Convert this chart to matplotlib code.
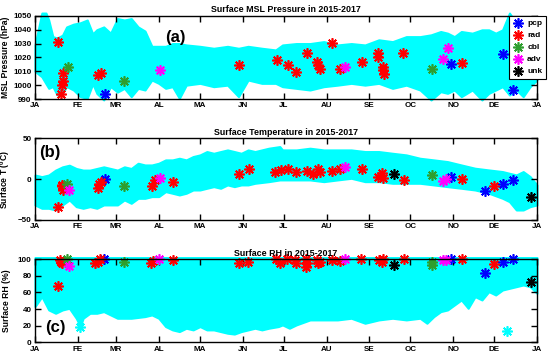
import matplotlib.pyplot as plt
from matplotlib.lines import Line2D

plt.rcParams['font.family'] = ['Liberation Sans', 'DejaVu Sans']
plt.rcParams['font.weight'] = 'bold'
plt.rcParams['mathtext.fontset'] = 'custom'
plt.rcParams['mathtext.rm'] = 'Liberation Sans:bold'
plt.rcParams['mathtext.it'] = 'Liberation Sans:bold'

month_ticks = [0, 31, 59, 90, 120, 151, 181, 212, 243, 273, 304, 334, 365]
month_labels = ['JA', 'FE', 'MR', 'AL', 'MA', 'JN', 'JL', 'AU', 'SE', 'OC', 'NO', 'DE', 'JA']

# cyan cloud of all hourly data, kept as its envelope (day of year, top, bottom)
env_day_a = [0, 5, 8, 10, 13, 16, 20, 23, 28, 33, 38, 42, 45, 50, 55, 60, 65, 70, 75, 80,
             85, 90, 95, 100, 105, 110, 120, 130, 140, 148, 155, 165, 175, 180, 190, 200,
             210, 220, 230, 240, 250, 260, 270, 280, 288, 295, 300, 305, 310, 318, 325,
             330, 335, 340, 345, 350, 355, 360, 365]
env_hi_a = [1029, 1052, 1052, 1047, 1035, 1034, 1036, 1042, 1044, 1045, 1047, 1037, 1040,
            1042, 1037.5, 1048, 1047, 1048, 1042, 1039, 1028, 1028, 1028, 1030, 1030, 1029,
            1028, 1026.6, 1028, 1026.6, 1028, 1026.6, 1025.4, 1029, 1030, 1030, 1031.4,
            1029, 1030, 1029, 1032.7, 1031.4, 1035, 1035, 1036.3, 1038.7, 1037.5, 1035,
            1038.7, 1037.5, 1039.9, 1039.9, 1037.5, 1039.9, 1052, 1044.7, 1042.3, 1039.9,
            1032.7]
env_lo_a = [1010, 1006, 1001, 997.7, 999, 993, 994, 999, 996.5, 991.7, 990.5, 1001, 994,
            989.3, 999, 995, 997.7, 991.7, 997.7, 996.5, 1003.7, 1001.3, 997.7, 998.9,
            990.5, 1000, 1001.3, 998.9, 1000, 991.7, 1003.7, 1001.3, 1001.3, 998.9, 997.7,
            996.5, 998.9, 1000, 1001.3, 1000, 1001.3, 997.7, 1000, 996.5, 989.3, 995.3,
            994.1, 996.5, 991.7, 996.5, 989.3, 994.1, 996.5, 998.9, 992.9, 996.5, 991.7,
            998.9, 1003.7]

env_day_b = [0, 5, 10, 15, 20, 25, 30, 35, 40, 45, 50, 55, 60, 65, 70, 75, 80, 85, 90, 95,
             100, 105, 110, 115, 120, 125, 130, 135, 140, 145, 150, 155, 160, 170, 178, 180,
             190, 200, 210, 220, 230, 240, 250, 260, 270, 280, 290, 300, 310, 320, 330, 340,
             345, 350, 355, 360, 365]
env_hi_b = [5, 3, 5, 11, 15, 17, 13, 11, 11, 13, 15, 13, 11, 15, 13, 19.4, 17.3, 17.3, 19.4,
            23.5, 23.5, 25.5, 23.5, 27.6, 29.6, 33.7, 31.6, 33.7, 35.7, 33.7, 31.6, 35.7,
            33.7, 37.8, 39.8, 35.7, 35.7, 37.8, 35.7, 35.7, 35.7, 33.7, 33.7, 31.6, 29.6,
            25.5, 23.5, 21.4, 17.3, 13.3, 11.2, 9.2, 7.1, 5.1, 9.2, 3.1, -7.1]
env_lo_b = [-31.6, -35.7, -35.7, -37.8, -31.6, -25.5, -33.7, -35.7, -33.7, -35.7, -31.6,
            -31.6, -31.6, -25.5, -29.6, -23.5, -23.5, -21.4, -21.4, -15.3, -17.3, -19.4,
            -17.3, -13.3, -13.3, -11.2, -9.2, -11.2, -7.1, -9.2, -7.1, -7.1, -5.1, -3.1, -1,
            -1, -1, -1, -3.1, -1, 1, -3.1, -3.1, -5.1, -5.1, -5.1, -7.1, -9.2, -11.2, -13.3,
            -17.3, -23.5, -27.6, -37.8, -37.8, -33.7, -31.6]

env_day_c = [0, 5, 10, 15, 20, 25, 30, 33, 35, 40, 45, 50, 55, 60, 70, 80, 85, 90, 95, 100,
             105, 110, 115, 120, 125, 130, 135, 140, 145, 150, 155, 160, 165, 170, 177, 180,
             185, 190, 200, 210, 220, 230, 240, 250, 260, 270, 280, 285, 290, 295, 300, 305,
             310, 315, 320, 325, 330, 335, 340, 345, 350, 355, 360, 365]
env_lo_c = [43, 55, 39, 35, 39, 41, 29, 19, 29, 35, 35, 37, 33, 29, 29, 31, 33, 29, 19, 15,
            13, 17, 15, 19, 15, 15, 13, 11, 10, 13, 15, 17, 15, 17, 19, 21, 17, 21, 27, 27,
            27, 29, 23, 27, 29, 27, 29, 23, 31, 37, 39, 45, 51, 41, 55, 51, 61, 57, 63, 65,
            67, 69, 67, 59]
rh_top = 102

# flagged events: day of year, value, category
a_day = [16.7, 19, 20.5, 20.5, 20, 46, 48, 148.5, 176, 184, 190, 197.6, 205, 206, 207, 215.8,
         221.8, 237.6, 249.7, 249.7, 253, 253, 253.5, 267.9, 310.8,
         50.7, 302.5, 340, 347.4,
         24, 65, 288.5,
         91, 225.5, 296.5, 300.6]
a_val = [1031.4, 993.4, 1009, 1003, 1000, 1007, 1009, 1014.6, 1018, 1014.6, 1009.7, 1023, 1017,
         1014.6, 1011.5, 1030.7, 1012, 1017, 1023, 1020.6, 1013.4, 1011, 1008, 1023, 1015.8,
         993.4, 1015, 1022.3, 996.5,
         1013, 1003, 1012,
         1011, 1013.4, 1018.7, 1027]
a_cat = ['rad'] * 25 + ['pcp'] * 4 + ['cbl'] * 3 + ['adv'] * 4

b_day = [16.7, 20, 20.5, 19.5, 45.5, 46.5, 48, 85, 87, 100, 148.5, 155.6, 174.5, 179, 184, 190,
         198, 202, 206, 207, 216, 222, 237.6, 249.7, 252, 253, 268, 310.8, 334,
         51, 302.5, 327, 340, 347.4,
         23.4, 65, 288.5,
         24.6, 91, 225.5, 296.5, 299,
         261.3, 361]
b_val = [-33.7, -9, -13, -7, -11, -6, -3, -8, -1, -3, 6, 12, 9, 11, 12, 9, 10, 6, 12, 9, 10,
         12, 12, 3, 7, 1, -1, 0, -8,
         0, 3, -14, -6, -1,
         -6, -8, 5,
         -13, 1, 15, -2, 0,
         6, -22]
b_cat = ['rad'] * 29 + ['pcp'] * 5 + ['cbl'] * 3 + ['adv'] * 5 + ['unk'] * 2

c_day = [16.5, 18.5, 19.7, 19, 44, 46, 47, 84.5, 86, 100, 148.5, 155, 175, 178, 183, 189, 190,
         197, 198, 197, 205, 207, 206, 216, 222, 237, 250, 252, 253, 268, 310.8, 334,
         50.5, 302.5, 327, 340, 347.4,
         23.4, 65, 288.5, 288.5,
         24.6, 90, 225.5, 296.5, 299,
         261, 360.8]
c_val = [68, 99, 95, 97, 95, 97, 100, 96, 98, 99, 96, 97, 100, 95, 100, 99, 95, 100, 95, 91,
         99, 97, 95, 99, 98, 100, 99, 97, 100, 100, 100, 94,
         100, 100, 84, 97, 100,
         100, 97, 97, 93,
         92, 100, 100, 99, 99,
         93, 73]
c_cat = ['rad'] * 32 + ['pcp'] * 5 + ['cbl'] * 4 + ['adv'] * 5 + ['unk'] * 2
c_stray_day = [32.5, 343]
c_stray_val = [18, 14]

cat_names = ['pcp', 'rad', 'cbl', 'adv', 'unk']
cat_colors = ['#0000ff', '#ff0000', '#2e9e2e', '#ff00ff', '#000000']

CYAN = '#00ffff'
STAR = (8, 2, 0)
MS, MEW = 7.5, 1.2

fig = plt.figure(figsize=(5.5, 3.6), dpi=100)
ax1 = fig.add_axes([0.0636, 0.725, 0.9127, 0.231])
ax2 = fig.add_axes([0.0636, 0.389, 0.9127, 0.227])
ax3 = fig.add_axes([0.0636, 0.049, 0.9127, 0.231])


def draw_events(ax, days, vals, cats):
    for name, col in zip(cat_names, cat_colors):
        xs = [d for d, c in zip(days, cats) if c == name]
        ys = [v for v, c in zip(vals, cats) if c == name]
        ax.plot(xs, ys, ls='none', marker=STAR, ms=MS, mew=MEW, color=col, clip_on=False, zorder=3)


def style(ax, ylim, yticks, ylab, title, labx):
    ax.set_xlim(0, 365)
    ax.set_ylim(*ylim)
    ax.set_xticks(month_ticks)
    ax.set_xticklabels(month_labels)
    ax.set_yticks(yticks)
    ax.tick_params(direction='in', length=4, width=1, top=True, right=True, labelsize=5.8, pad=2.5)
    for sp in ax.spines.values():
        sp.set_linewidth(1.0)
        sp.set_zorder(4)
    ax.set_ylabel(ylab, fontsize=6.2, fontweight='bold')
    ax.yaxis.set_label_coords(labx, 0.5)
    ax.set_title(title, fontsize=6.4, fontweight='bold', pad=2.5)


# (a) pressure
ax1.fill_between(env_day_a, env_lo_a, env_hi_a, color=CYAN, lw=1.5, clip_on=False, zorder=1)
draw_events(ax1, a_day, a_val, a_cat)
style(ax1, (990, 1050), [990, 1000, 1010, 1020, 1030, 1040, 1050], 'MSL Pressure (hPa)',
      'Surface MSL Pressure in 2015-2017', -0.05)
ax1.text(0.279, 0.735, '(a)', transform=ax1.transAxes, fontsize=12, fontweight='bold',
         ha='center', va='center', zorder=5)
handles = [Line2D([], [], ls='none', marker=STAR, ms=MS, mew=MEW, color=c) for c in cat_colors]
leg = ax1.legend(handles, cat_names, loc='upper right', bbox_to_anchor=(1.018, 1.0),
                 borderaxespad=0, fontsize=6, handlelength=1.2, handletextpad=0.5,
                 labelspacing=0.5, borderpad=0.45, fancybox=False, framealpha=1,
                 edgecolor='black')
leg.get_frame().set_linewidth(0.8)
leg.set_zorder(6)

# (b) temperature
ax2.fill_between(env_day_b, env_lo_b, env_hi_b, color=CYAN, lw=1.5, clip_on=False, zorder=1)
draw_events(ax2, b_day, b_val, b_cat)
style(ax2, (-50, 50), [-50, 0, 50], r'Surface T ($^{0}$C)',
      'Surface Temperature in 2015-2017', -0.045)
ax2.text(0.03, 0.83, '(b)', transform=ax2.transAxes, fontsize=12, fontweight='bold',
         ha='center', va='center', zorder=5)

# (c) relative humidity
ax3.fill_between(env_day_c, env_lo_c, rh_top, color=CYAN, lw=1.5, clip_on=False, zorder=1)
ax3.plot(c_stray_day, c_stray_val, ls='none', marker=STAR, ms=MS, mew=MEW, color=CYAN, zorder=2)
draw_events(ax3, c_day, c_val, c_cat)
style(ax3, (0, 100), [0, 20, 40, 60, 80, 100], 'Surface RH (%)',
      'Surface RH in 2015-2017', -0.047)
ax3.text(0.04, 0.18, '(c)', transform=ax3.transAxes, fontsize=12, fontweight='bold',
         ha='center', va='center', zorder=5)

fig.savefig('out.png', dpi=100)
